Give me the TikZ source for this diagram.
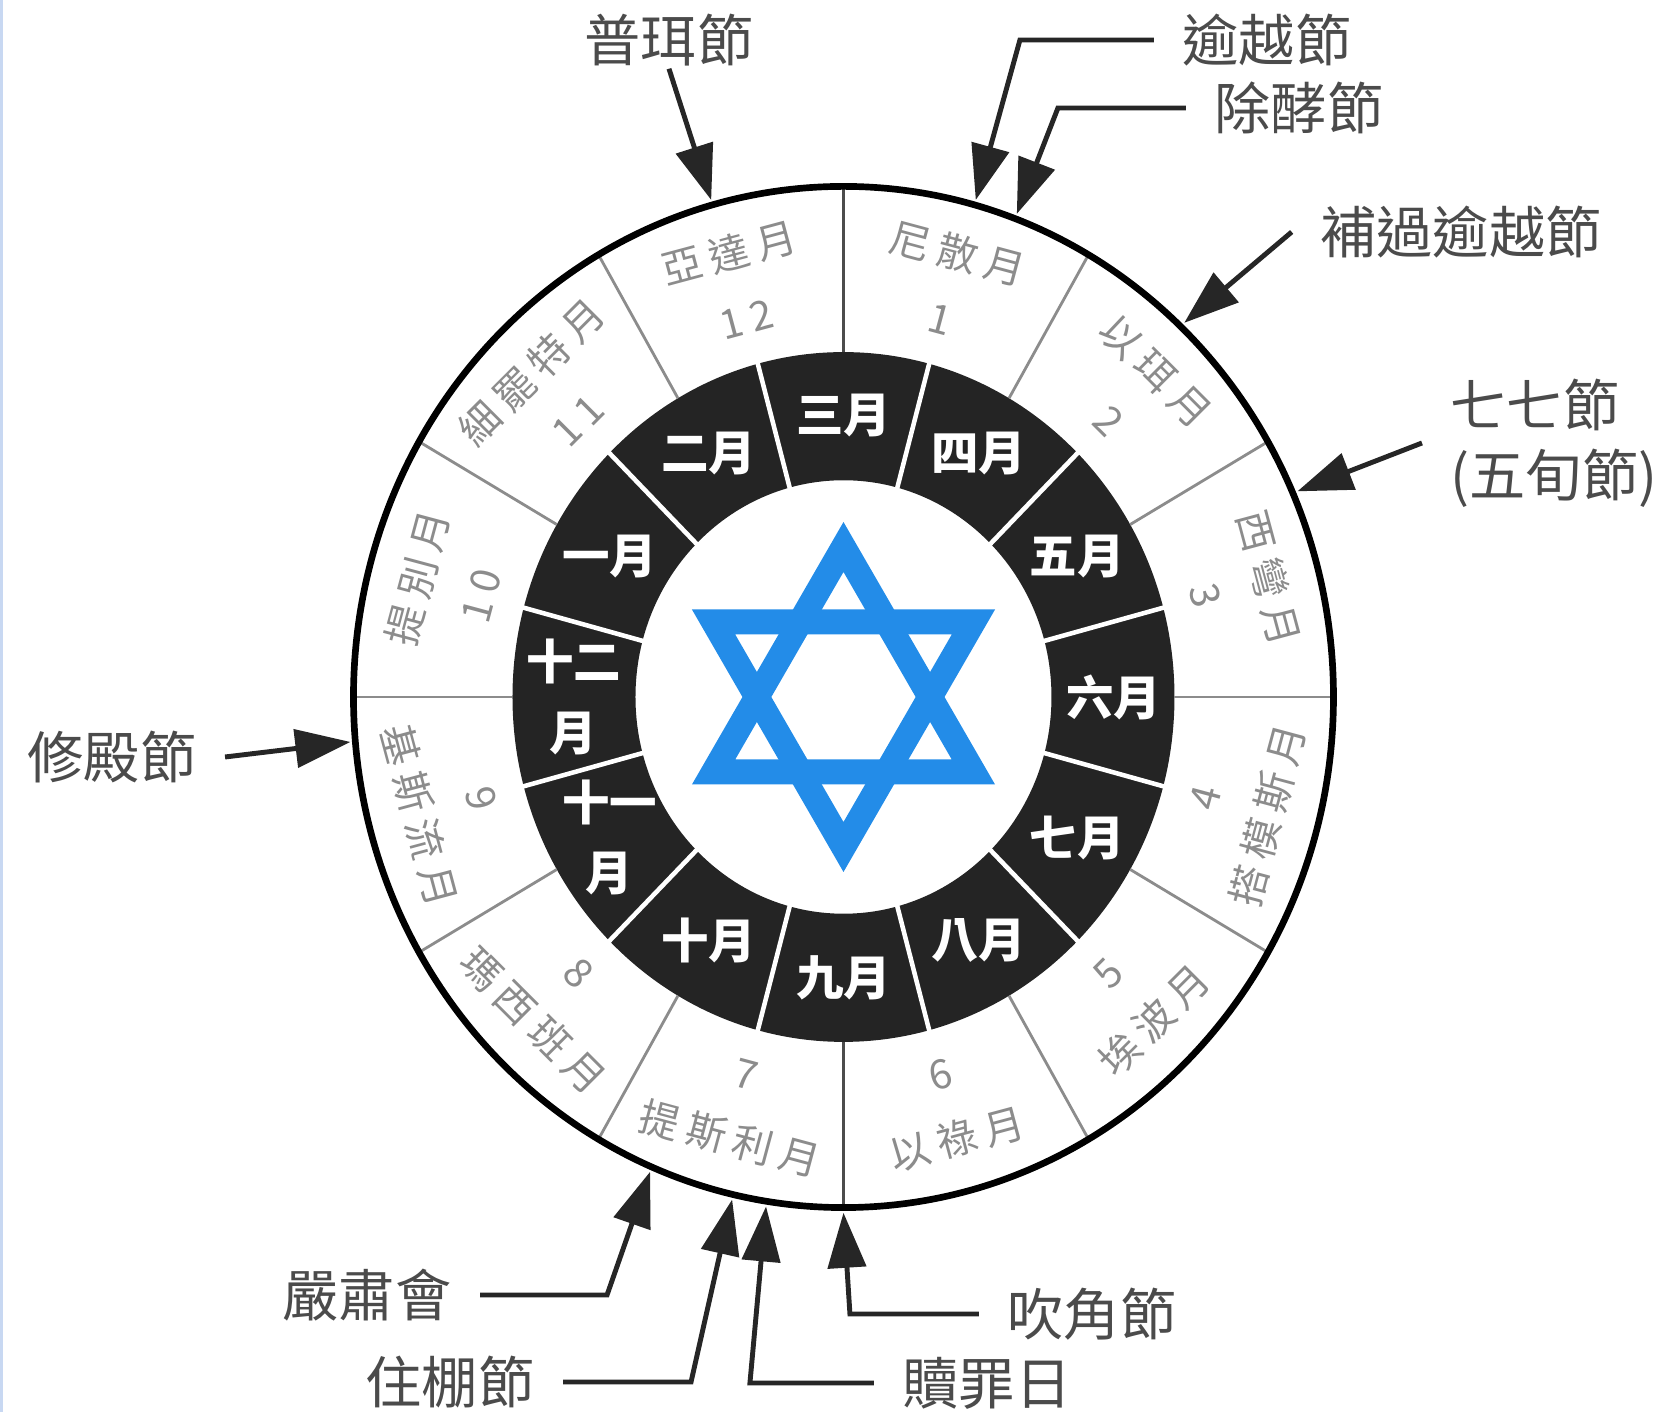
\documentclass[tikz,border=0pt]{standalone}
\usepackage{fontspec}
\usetikzlibrary{arrows.meta}
\newfontfamily\cjk{Noto Sans CJK TC}
\newfontfamily\cjkring{Noto Sans CJK TC}[LetterSpace=20]
\definecolor{starblue}{RGB}{35,140,232}
\definecolor{ringgray}{RGB}{140,140,140}
\definecolor{feastgray}{RGB}{75,75,75}
\definecolor{edgeblue}{RGB}{200,216,242}

\begin{document}
\begin{tikzpicture}
\tikzstyle{every node}=[font=\cjk]
\tikzstyle{month}=[font=\cjkring\fontsize{11.5}{13}\selectfont, text=ringgray, inner sep=0pt]
\tikzstyle{civil}=[font=\cjk\bfseries\fontsize{13.5}{20}\selectfont, text=white, align=center, inner sep=0pt]
\tikzstyle{feast}=[font=\cjk\fontsize{16}{20}\selectfont, text=feastgray, inner xsep=0.28cm, inner ysep=0.02cm]
\tikzstyle{pointer}=[draw=black!85, line width=1.4pt, -{Triangle[length=5.5mm,width=3.8mm]}]

\useasboundingbox (-8.435,-7.15) rectangle (8.265,6.97);
\fill[edgeblue] (-8.435,-7.15) rectangle (-8.405,6.97);

\begin{scope}[yscale=1.042]
\fill[black!86, even odd rule] (0,0) circle (3.31) (0,0) circle (2.08);
\foreach \a in {15,45,...,345}
  \draw[white, line width=1.3pt] (\a:2.05) -- (\a:3.34);
\foreach \a in {0,30,60,120,150,180,210,240,300,330}
  \draw[black!45, line width=0.8pt] (\a:3.31) -- (\a:4.9);
\draw[black!70, line width=0.8pt] (90:3.31) -- (90:4.9) (270:3.31) -- (270:4.9);
\draw[line width=1.9pt] (0,0) circle (4.9);

% sacred year
\foreach \m/\name/\a in {1/尼散月/75, 2/以珥月/45, 3/西彎月/15, 10/提別月/165, 11/細罷特月/135, 12/亞達月/105} {
  \node[month, rotate=\a-90] (name\m) at (\a:4.41) {\name};
  \node[month, rotate=\a-90] (num\m) at (\a:3.75) {\m};
}
\foreach \m/\name/\a in {4/搭模斯月/-15, 5/埃波月/-45, 6/以祿月/-75, 7/提斯利月/-105, 8/瑪西班月/-135, 9/基斯流月/-165} {
  \node[month, rotate=\a+90] (name\m) at (\a:4.39) {\name};
  \node[month, rotate=\a+90] (num\m) at (\a:3.75) {\m};
}
% civil year
\foreach \name/\a [count=\i] in {一月/150, 二月/120, 三月/90, 四月/60, 五月/30, 六月/0, 七月/-30, 八月/-60, 九月/-90, 十月/-120, 十一\\月/-150, 十二\\月/180}
  \node[civil] (civil\i) at (\a:2.70) {\name};

\foreach \t/\a in {Purim/105.5, Pesach/74.5, Matzot/69.5, Sheni/46.5, Shavuot/23.5, Hanukkah/185, Atzeret/-113, Sukkot/-103, Kippur/-99, Trumpets/-90}
  \coordinate (tip\t) at (\a:4.95);
\end{scope}

\draw[starblue, line width=0.25cm] (90:1.5) -- (210:1.5) -- (330:1.5) -- cycle;
\draw[starblue, line width=0.25cm] (270:1.5) -- (30:1.5) -- (150:1.5) -- cycle;

\node[feast] (purim) at (-1.745,6.57) {普珥節};
\node[feast] (pesach) at (4.235,6.57) {逾越節};
\node[feast] (matzot) at (4.555,5.89) {除酵節};
\node[feast] (sheni) at (6.175,4.65) {補過逾越節};
\node[feast, align=left, anchor=west] (shavuot) at (5.785,2.54) {七七節\\(五旬節)};
\node[feast] (hanukkah) at (-7.315,-0.60) {修殿節};
\node[feast] (atzeret) at (-4.765,-5.98) {嚴肅會};
\node[feast] (sukkot) at (-3.935,-6.85) {住棚節};
\node[feast] (kippur) at (1.435,-6.86) {贖罪日};
\node[feast] (trumpets) at (2.485,-6.17) {吹角節};

\draw[pointer] (purim.south) -- (tipPurim);
\draw[pointer] (pesach.west) -- ++(-1.34,0) -- (tipPesach);
\draw[pointer] (matzot.west) -- ++(-1.28,0) -- (tipMatzot);
\draw[pointer] (sheni.west) -- (tipSheni);
\draw[pointer] (shavuot.west) -- (tipShavuot);
\draw[pointer] (hanukkah.east) -- (tipHanukkah);
\draw[pointer] (atzeret.east) -- ++(1.27,0) -- (tipAtzeret);
\draw[pointer] (sukkot.east) -- ++(1.28,0) -- (tipSukkot);
\draw[pointer] (kippur.west) -- ++(-1.24,0) -- (tipKippur);
\draw[pointer] (trumpets.west) -- ++(-1.29,0) -- (tipTrumpets);
\end{tikzpicture}
\end{document}
